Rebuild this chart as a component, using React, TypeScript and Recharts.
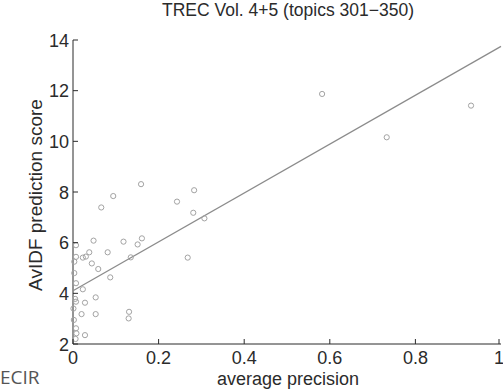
import { ScatterChart, Scatter, XAxis, YAxis } from 'recharts';

const avgPrecision = [
  0.094, 0.159, 0.283, 0.066, 0.243, 0.281, 0.307, 0.048, 0.118, 0.161,
  0.151, 0.081, 0.038, 0.007, 0.023, 0.03, 0.007, 0.003, 0.135, 0.268,
  0.044, 0.059, 0.003, 0.087, 0.007, 0.023, 0.005, 0.007, 0.053, 0.028,
  0.001, 0.131, 0.02, 0.053, 0.13, 0.002, 0.007, 0.008, 0.028, 0.006,
  0.582, 0.733, 0.93,
];
const avidfScore = [
  7.84, 8.31, 8.07, 7.39, 7.62, 7.18, 6.96, 6.08, 6.04, 6.17,
  5.93, 5.62, 5.62, 5.9, 5.41, 5.45, 5.44, 5.25, 5.42, 5.41,
  5.18, 4.96, 4.8, 4.63, 4.4, 4.16, 3.78, 3.67, 3.84, 3.63,
  3.4, 3.27, 3.18, 3.18, 3.01, 2.95, 2.62, 2.42, 2.35, 2.2,
  11.87, 10.16, 11.41,
];
const fitX = [0, 1];
const fitY = [4.1, 13.75];
const xTicks = [0, 0.2, 0.4, 0.6, 0.8, 1];
const yTicks = [2, 4, 6, 8, 10, 12, 14];

const points = avgPrecision.map((x, i) => ({ x, y: avidfScore[i] }));
const fitLine = fitX.map((x, i) => ({ x, y: fitY[i] }));

const M = 8;
const font = '"Liberation Sans", Arial, sans-serif';
const ink = '#2b2b2b';

const fmt = (v: number) => (v === 0 || v === 1 ? String(v) : v.toFixed(1));

const BottomTick = (p: any) => (
  <g>
    <line x1={p.x} x2={p.x} y1={p.y - M} y2={p.y - M - 5} stroke={ink} />
    <text x={p.x} y={p.y + 12} textAnchor="middle" fontSize={18} fill={ink} fontFamily={font}>
      {fmt(p.payload.value)}
    </text>
  </g>
);
const TopTick = (p: any) => (
  <line x1={p.x} x2={p.x} y1={p.y + M} y2={p.y + M + 5} stroke={ink} />
);
const LeftTick = (p: any) => (
  <g>
    <line x1={p.x + M} x2={p.x + M + 5} y1={p.y} y2={p.y} stroke={ink} />
    <text x={p.x + 4} y={p.y + 6.5} textAnchor="end" fontSize={18} fill={ink} fontFamily={font}>
      {p.payload.value}
    </text>
  </g>
);
const RightTick = (p: any) => (
  <line x1={p.x - M} x2={p.x - M - 5} y1={p.y} y2={p.y} stroke={ink} />
);

const Ring = (p: any) => (
  <circle cx={p.cx} cy={p.cy} r={2.6} fill="none" stroke="#a3a3a3" strokeWidth={1} />
);

export default function App() {
  return (
    <div style={{ position: 'absolute', left: 0, top: 0, width: 503, height: 389, background: '#fff', overflow: 'hidden' }}>
      <ScatterChart width={503} height={389} margin={{ top: 40, right: 2, bottom: 15, left: 33 }}>
        <XAxis xAxisId="b" dataKey="x" type="number" domain={[0, 1]} ticks={xTicks}
          height={30} tickSize={0} tickMargin={M} tickLine={false} stroke={ink} tick={<BottomTick />} />
        <XAxis xAxisId="t" orientation="top" dataKey="x" type="number" domain={[0, 1]} ticks={xTicks}
          height={0} tickSize={0} tickMargin={M} tickLine={false} stroke={ink} tick={<TopTick />} />
        <YAxis yAxisId="l" dataKey="y" type="number" domain={[2, 14]} ticks={yTicks}
          width={40} tickSize={0} tickMargin={M} tickLine={false} stroke={ink} tick={<LeftTick />} />
        <YAxis yAxisId="r" orientation="right" dataKey="y" type="number" domain={[2, 14]} ticks={yTicks}
          width={0} tickSize={0} tickMargin={M} tickLine={false} stroke={ink} tick={<RightTick />} />
        <Scatter xAxisId="b" yAxisId="l" data={fitLine} line={{ stroke: '#8c8c8c', strokeWidth: 1.3 }}
          shape={() => null} isAnimationActive={false} />
        <Scatter xAxisId="b" yAxisId="l" data={points} shape={<Ring />} isAnimationActive={false} />
      </ScatterChart>
      <div style={{ position: 'absolute', top: 0, left: 0, width: 576, textAlign: 'center', fontFamily: font, fontSize: 17.5, color: ink, whiteSpace: 'nowrap' }}>
        TREC Vol. 4+5 (topics 301−350)
      </div>
      <div style={{ position: 'absolute', top: 370, left: 0, width: 576, textAlign: 'center', fontFamily: font, fontSize: 18, lineHeight: '18px', color: ink, whiteSpace: 'nowrap' }}>
        average precision
      </div>
      <div style={{ position: 'absolute', left: 36, top: 195, transform: 'translate(-50%, -50%) rotate(-90deg)', whiteSpace: 'nowrap', fontFamily: font, fontSize: 19, color: ink }}>
        AvIDF prediction score
      </div>
      <div style={{ position: 'absolute', left: 0, top: 366, fontFamily: '"Open Sans", sans-serif', fontSize: 19, lineHeight: '22px', color: '#555' }}>
        ECIR
      </div>
    </div>
  );
}
